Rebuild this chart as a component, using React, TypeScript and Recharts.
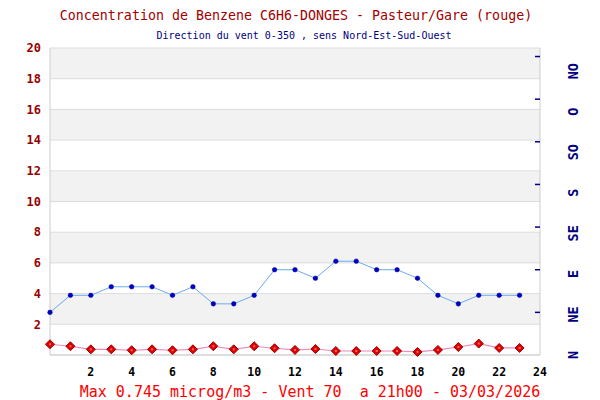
import React from 'react';
import { LineChart, Line, XAxis, YAxis, CartesianGrid, ReferenceLine } from 'recharts';

const hours = [0, 1, 2, 3, 4, 5, 6, 7, 8, 9, 10, 11, 12, 13, 14, 15, 16, 17, 18, 19, 20, 21, 22, 23];
const benzene = [0.70, 0.57, 0.37, 0.37, 0.31, 0.37, 0.31, 0.37, 0.57, 0.37, 0.57, 0.44, 0.33, 0.39, 0.26, 0.26, 0.26, 0.26, 0.2, 0.33, 0.52, 0.745, 0.46, 0.46];
const wind = [50, 70, 70, 80, 80, 80, 70, 80, 60, 60, 70, 100, 100, 90, 110, 110, 100, 100, 90, 70, 60, 70, 70, 70];
const xTicks = [2, 4, 6, 8, 10, 12, 14, 16, 18, 20, 22, 24];
const leftTicks = [2, 4, 6, 8, 10, 12, 14, 16, 18, 20];
const windTicks = [50, 100, 150, 200, 250, 300, 350];
const dirLabels = ['N', 'NE', 'E', 'SE', 'S', 'SO', 'O', 'NO'];
const dirIndex = [0, 1, 2, 3, 4, 5, 6, 7];

const title = 'Concentration de Benzene C6H6-DONGES - Pasteur/Gare (rouge)';
const subtitle = 'Direction du vent 0-350 , sens Nord-Est-Sud-Ouest';
const caption = 'Max 0.745 microg/m3 - Vent 70  a 21h00 - 03/03/2026';

const data = hours.map((h, i) => ({ h, benzene: benzene[i], wind: wind[i] }));

const MONO = '"DejaVu Sans Mono", "Liberation Mono", monospace';

const DirTick = (props: any) => {
  const { x, y, payload } = props;
  return (
    <text
      x={x}
      y={y}
      transform={`rotate(-90 ${x} ${y})`}
      textAnchor="middle"
      dominantBaseline="central"
      fill="#000080"
      fontWeight="bold"
      fontSize={13.5}
      fontFamily={MONO}
    >
      {dirLabels[payload.value]}
    </text>
  );
};

const MarkTick = (props: any) => {
  const { x, y } = props;
  return <line x1={x - 5} x2={x} y1={y} y2={y} stroke="#000080" strokeWidth={1.5} />;
};

const Diamond = (props: any) => {
  const { cx, cy } = props;
  if (cx == null || cy == null) return null;
  const s = 4.5;
  return (
    <g>
      <polygon
        points={`${cx},${cy - s} ${cx + s},${cy} ${cx},${cy + s} ${cx - s},${cy}`}
        fill="#e00000"
        stroke="#990000"
        strokeWidth={1}
      />
      <rect x={cx - 1} y={cy - 1} width={2} height={2} fill="#ff6060" />
    </g>
  );
};

const BlueDot = (props: any) => {
  const { cx, cy } = props;
  if (cx == null || cy == null) return null;
  return <circle cx={cx} cy={cy} r={2.3} fill="#0000cc" stroke="#000088" strokeWidth={0.5} />;
};

export default function App() {
  return (
    <div style={{ position: 'absolute', left: 0, top: 0, width: 600, height: 400, background: '#fff' }}>
      <LineChart
        width={600}
        height={400}
        data={data}
        margin={{ top: 48, right: 0, bottom: 15, left: 0 }}
      >
        <CartesianGrid
          vertical={false}
          stroke="#dddddd"
          horizontalFill={['#f2f2f2', '#ffffff']}
          fillOpacity={1}
          yAxisId="left"
        />
        <XAxis
          dataKey="h"
          type="number"
          domain={[0, 24]}
          ticks={xTicks}
          interval={0}
          height={30}
          tickLine={false}
          tickSize={0}
          tickMargin={13}
          axisLine={{ stroke: '#cccccc' }}
          tick={{ fill: '#000000', fontSize: 11.5, fontWeight: 'bold', fontFamily: MONO }}
        />
        <YAxis
          yAxisId="left"
          orientation="left"
          type="number"
          domain={[0, 20]}
          ticks={leftTicks}
          interval={0}
          width={50}
          tickLine={false}
          tickSize={0}
          tickMargin={9}
          axisLine={{ stroke: '#cccccc' }}
          tick={{ fill: '#990000', fontSize: 12, fontWeight: 'bold', fontFamily: MONO }}
        />
        <YAxis
          yAxisId="dir"
          orientation="right"
          type="number"
          domain={[0, 360]}
          ticks={windTicks}
          interval={0}
          width={1}
          tickSize={0}
          tickMargin={0}
          tickLine={false}
          axisLine={false}
          tick={<MarkTick />}
        />
        <YAxis
          yAxisId="lbl"
          orientation="right"
          type="number"
          domain={[0, 7.57]}
          allowDataOverflow
          ticks={dirIndex}
          interval={0}
          width={59}
          tickLine={false}
          tickSize={0}
          tickMargin={32}
          axisLine={false}
          tick={<DirTick />}
        />
        <ReferenceLine yAxisId="left" x={24} stroke="#cccccc" />
        <Line
          yAxisId="dir"
          dataKey="wind"
          stroke="#6aaaf0"
          strokeWidth={1}
          dot={<BlueDot />}
          isAnimationActive={false}
        />
        <Line
          yAxisId="left"
          dataKey="benzene"
          stroke="#ee88bb"
          strokeWidth={1.2}
          dot={<Diamond />}
          isAnimationActive={false}
        />
      </LineChart>
      <svg width={600} height={400} style={{ position: 'absolute', left: 0, top: 0, pointerEvents: 'none' }}>
        <text x={296} y={15} textAnchor="middle" dominantBaseline="central" fill="#a00000" fontSize={13.3} fontFamily={MONO}>
          {title}
        </text>
        <text x={304} y={35} textAnchor="middle" dominantBaseline="central" fill="#000080" fontSize={10} fontFamily={MONO}>
          {subtitle}
        </text>
        <text x={310} y={392} textAnchor="middle" dominantBaseline="central" fill="#ff0000" fontSize={15} fontFamily={MONO} style={{ whiteSpace: 'pre' }}>
          {caption}
        </text>
      </svg>
    </div>
  );
}
